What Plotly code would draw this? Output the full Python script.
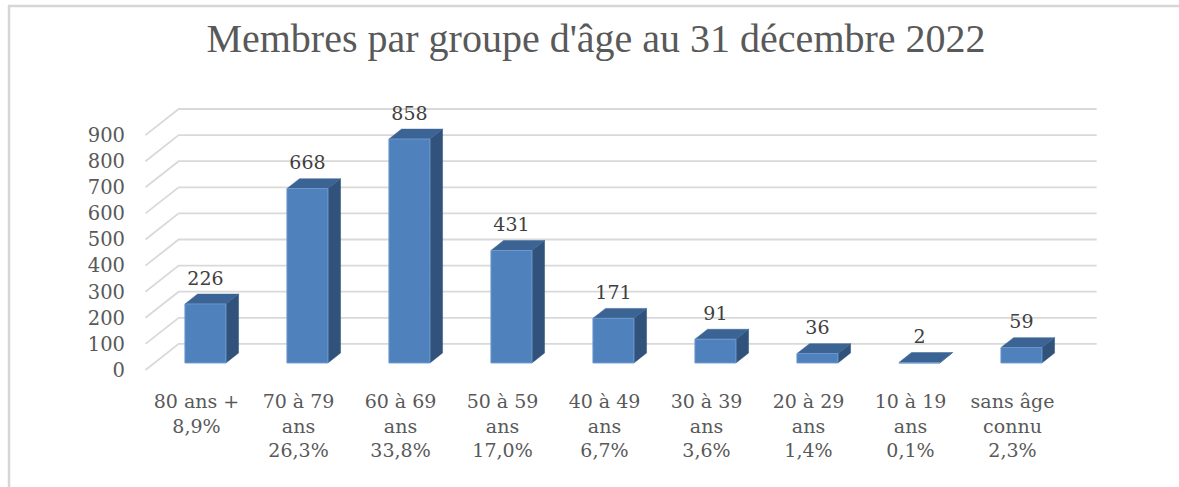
import plotly.graph_objects as go

# ---- data ----
categories = ["80 ans +", "70 à 79 ans", "60 à 69 ans", "50 à 59 ans", "40 à 49 ans",
              "30 à 39 ans", "20 à 29 ans", "10 à 19 ans", "sans âge connu"]
tick_labels = ["80 ans +<br>8,9%", "70 à 79<br>ans<br>26,3%", "60 à 69<br>ans<br>33,8%",
               "50 à 59<br>ans<br>17,0%", "40 à 49<br>ans<br>6,7%", "30 à 39<br>ans<br>3,6%",
               "20 à 29<br>ans<br>1,4%", "10 à 19<br>ans<br>0,1%", "sans âge<br>connu<br>2,3%"]
members = [226, 668, 858, 431, 171, 91, 36, 2, 59]
y_ticks = [0, 100, 200, 300, 400, 500, 600, 700, 800, 900]

# ---- geometry / style ----
W, H = 1179, 487
L, R, T, B = 126, 69, 80, 107
PX_PER_CAT = 102.0
X0_PX = 145.5          # pixel of x=-0.5 on the front plane
PX_PER_UNIT = 0.261    # pixels per member
Y0_PX = 370.0          # pixel of value 0 on the front plane

def x_of(px):
    return -0.5 + (px - X0_PX) / PX_PER_CAT

def v_of(py):
    return (Y0_PX - py) / PX_PER_UNIT

x_range = [x_of(L), x_of(W - R)]
y_range = [v_of(H - B), v_of(T)]

DX, DY = 0.325, 100.0       # depth of the 3D floor (category units, value units)
F0, F1 = 0.27, 0.65         # bar front/back depth fractions
HW = 0.201                  # half bar width
GRID = "#D9D9D9"
FRONT, SIDE, TOP = "#4F81BD", "#31527B", "#3B6494"
FONT = "DejaVu Serif"

fig = go.Figure()

# gridlines (3D walls)
n = len(categories)
for v in y_ticks:
    fig.add_trace(go.Scatter(
        x=[-0.5, -0.5 + DX, n - 0.5 + DX], y=[v, v + DY, v + DY],
        mode="lines", line=dict(color=GRID, width=1.8),
        hoverinfo="skip", showlegend=False))

def poly(xs, ys, fill, edge, w=0.5):
    fig.add_trace(go.Scatter(
        x=xs + [xs[0]], y=ys + [ys[0]], fill="toself", fillcolor=fill,
        mode="lines", line=dict(color=edge, width=w),
        hoverinfo="skip", showlegend=False))

# bars (side, top, front)
for i, v in enumerate(members):
    xl = i - HW
    xr = i + HW
    poly([xr + F0 * DX, xr + F1 * DX, xr + F1 * DX, xr + F0 * DX],
         [F0 * DY, F1 * DY, v + F1 * DY, v + F0 * DY], SIDE, SIDE)
    poly([xl + F0 * DX, xr + F0 * DX, xr + F1 * DX, xl + F1 * DX],
         [v + F0 * DY, v + F0 * DY, v + F1 * DY, v + F1 * DY], TOP, TOP)
    poly([xl + F0 * DX, xr + F0 * DX, xr + F0 * DX, xl + F0 * DX],
         [F0 * DY, F0 * DY, v + F0 * DY, v + F0 * DY], FRONT, "#6E98CC", 1)

# value labels
fig.add_trace(go.Scatter(
    x=[i + F0 * DX for i in range(n)], y=[v + 119 for v in members],
    mode="text", text=[str(v) for v in members],
    textfont=dict(family=FONT, size=19, color="#404040"),
    textposition="middle center", hoverinfo="skip", showlegend=False))

# outer border (top and left lines)
pw = W - L - R
ph = H - T - B
def px_x(px):
    return (px - L) / pw
def px_y(py):
    return (H - B - py) / ph
fig.add_shape(type="line", xref="paper", yref="paper",
              x0=px_x(8), x1=px_x(W + 5), y0=px_y(6), y1=px_y(6),
              line=dict(color="#D6D6D6", width=2.5))
fig.add_shape(type="line", xref="paper", yref="paper",
              x0=px_x(9), x1=px_x(9), y0=px_y(6), y1=px_y(H + 5),
              line=dict(color="#D6D6D6", width=2.5))

fig.update_layout(
    width=W, height=H,
    margin=dict(l=L, r=R, t=T, b=B),
    paper_bgcolor="white", plot_bgcolor="white",
    title=dict(text="Membres par groupe d'âge au 31 décembre 2022",
               x=596 / W, xanchor="center", xref="container",
               y=1 - 38 / H, yanchor="middle", yref="container",
               font=dict(family="Liberation Serif", size=40, color="#595959")),
    xaxis=dict(range=x_range, tickvals=list(range(n)), ticktext=tick_labels,
               showgrid=False, zeroline=False, showline=False, ticks="",
               ticklabelstandoff=8,
               tickfont=dict(family=FONT, size=19, color="#595959")),
    yaxis=dict(range=y_range, tickvals=y_ticks, ticktext=[str(t) for t in y_ticks],
               showgrid=False, zeroline=False, showline=False, ticks="",
               tickfont=dict(family=FONT, size=19.5, color="#595959")),
)

fig.write_html("out.html", config={"displayModeBar": False},
               post_script="document.body.style.margin='0';")
